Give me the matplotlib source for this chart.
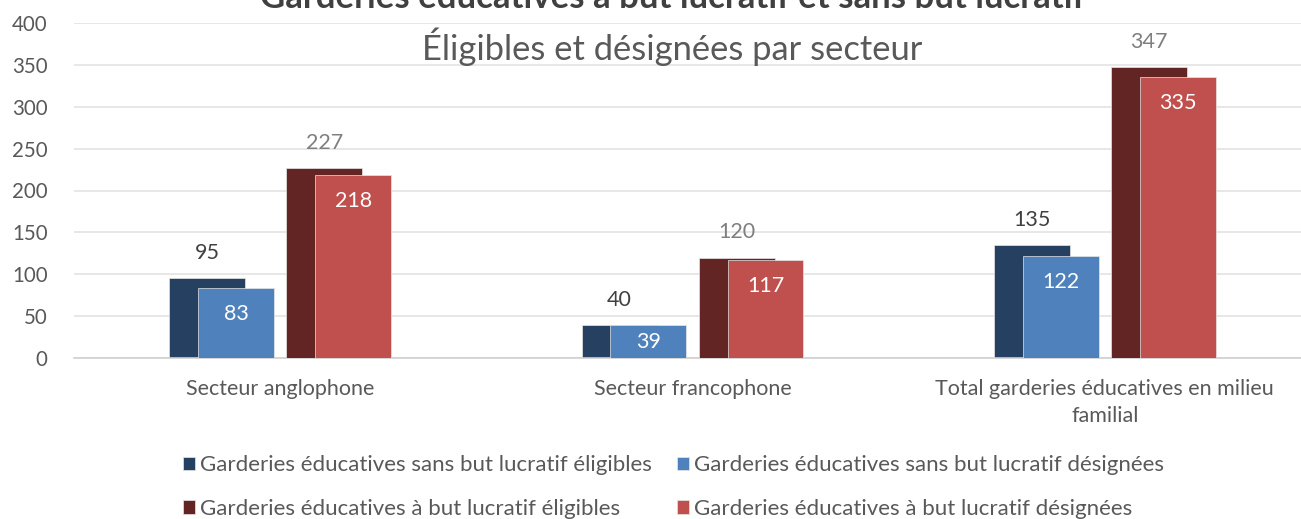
import matplotlib
matplotlib.use("Agg")
import matplotlib.pyplot as plt
import numpy as np

categories = ["Secteur anglophone", "Secteur francophone",
              "Total garderies éducatives en milieu\nfamilial"]
series_names = ["Garderies éducatives sans but lucratif éligibles",
                "Garderies éducatives sans but lucratif désignées",
                "Garderies éducatives à but lucratif éligibles",
                "Garderies éducatives à but lucratif désignées"]
sbl_eligibles = [95, 40, 135]
sbl_designees = [83, 39, 122]
bl_eligibles = [227, 120, 347]
bl_designees = [218, 117, 335]
yticks = [0, 50, 100, 150, 200, 250, 300, 350, 400]

title = "Garderies éducatives à but lucratif et sans but lucratif"
subtitle = "Éligibles et désignées par secteur"

plt.rcParams['font.family'] = ['Lato', 'DejaVu Sans']

W, H = 1301, 519
fig = plt.figure(figsize=(W/100, H/100), dpi=100)
ax = fig.add_axes([74/W, 1-358/H, (1311-74)/W, (358-23)/H])

x = np.arange(len(categories))
bw = 0.184
offs = [-0.177, -0.107, 0.107, 0.177]
colors = ["#254061", "#4F81BD", "#632523", "#C0504D"]
data = [sbl_eligibles, sbl_designees, bl_eligibles, bl_designees]
bars = []
for i, (vals, off, c) in enumerate(zip(data, offs, colors)):
    b = ax.bar(x + off, vals, bw, color=c, edgecolor="#e6e6e6", linewidth=0.5,
               zorder=2 + i, label=series_names[i])
    bars.append(b)

lab_colors = ["#404040", "white", "#7f7f7f", "white"]
for i, (vals, off) in enumerate(zip(data, offs)):
    for xi, v in zip(x, vals):
        if i in (0, 2):
            ax.annotate(str(v), (xi + off, v), xytext=(0, 18), textcoords="offset points",
                        ha="center", va="center", fontsize=15.5, color=lab_colors[i], zorder=10)
        else:
            ypos = max(v - 31, v / 2)
            ax.text(xi + off, ypos, str(v), ha="center", va="center", fontsize=15.5,
                    color=lab_colors[i], zorder=10)

ax.set_xlim(-0.5, 2.5)
ax.set_ylim(0, 400)
ax.set_yticks(yticks)
ax.set_xticks(x)
ax.set_xticklabels(categories, fontsize=15.5, linespacing=1.45)
ax.yaxis.grid(True, color="#e3e3e3", linewidth=1.2, zorder=0)
ax.set_axisbelow(True)
for s in ["top", "right", "left"]:
    ax.spines[s].set_visible(False)
ax.spines["bottom"].set_color("#cfcfcf")
ax.spines["bottom"].set_linewidth(1.2)
ax.tick_params(axis="both", length=0, labelcolor="#595959")
ax.tick_params(axis="y", pad=19, labelsize=14.8)
ax.tick_params(axis="x", pad=15)

fig.text(673/W, 1-8/H, title, ha="center", va="baseline", fontsize=25,
         fontweight="bold", color="#404040")
fig.text(672/W, 1-47/H, subtitle, ha="center", va="center", fontsize=24.8,
         color="#595959")

handles = [bars[0], bars[2], bars[1], bars[3]]
labels = [series_names[0], series_names[2], series_names[1], series_names[3]]
fig.legend(handles, labels, ncol=2, loc="center left",
           bbox_to_anchor=(167/W, 1-487/H), frameon=False, fontsize=16,
           labelcolor="#595959", handlelength=0.55, handleheight=0.55,
           handletextpad=0.25, labelspacing=1.05, columnspacing=1.1,
           borderpad=0.2)

fig.savefig("out.png", dpi=100)
